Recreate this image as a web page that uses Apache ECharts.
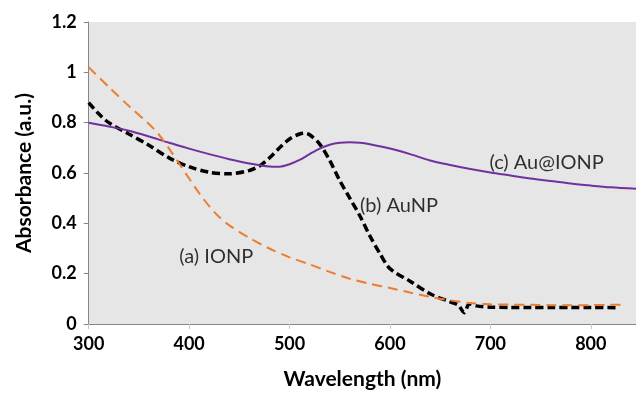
<!DOCTYPE html>
<html>
<head>
<meta charset="utf-8">
<script src="https://cdn.jsdelivr.net/npm/echarts@6/dist/echarts.min.js"></script>
<style>
html,body{margin:0;padding:0;background:#fff;}
#chart{width:636px;height:395px;}
</style>
</head>
<body>
<div id="chart"></div>
<script>
// (a) IONP
var ionpX = [300,320,340,360,370,380,390,400,410,420,430,440,460,480,500,520,540,560,580,600,620,640,660,680,700,720,740,760,780,800,820,830];
var ionpY = [1.02,0.942,0.866,0.795,0.752,0.697,0.638,0.578,0.52,0.468,0.425,0.392,0.342,0.30,0.265,0.237,0.207,0.18,0.16,0.143,0.125,0.108,0.094,0.083,0.078,0.077,0.076,0.075,0.075,0.075,0.076,0.077];
// (b) AuNP
var aunpX = [300,310,320,340,360,380,400,420,440,460,470,480,490,500,510,515,520,530,540,550,560,570,580,590,600,620,640,660,668,674,679,686,700,720,740,760,780,800,825];
var aunpY = [0.88,0.835,0.80,0.755,0.71,0.66,0.625,0.603,0.597,0.61,0.628,0.66,0.70,0.735,0.755,0.758,0.752,0.715,0.65,0.57,0.50,0.43,0.35,0.28,0.22,0.17,0.12,0.088,0.075,0.045,0.08,0.072,0.067,0.066,0.066,0.066,0.066,0.066,0.065];
// (c) Au@IONP
var auionpX = [300,320,340,360,380,400,420,440,460,480,490,500,510,520,530,540,550,560,570,580,600,620,640,660,680,700,720,740,760,780,800,820,845];
var auionpY = [0.80,0.785,0.768,0.745,0.72,0.697,0.675,0.655,0.638,0.626,0.625,0.635,0.652,0.675,0.697,0.712,0.72,0.722,0.72,0.714,0.697,0.675,0.65,0.632,0.616,0.602,0.59,0.578,0.568,0.558,0.55,0.543,0.537];
// annotations (data coordinates)
var noteText = ['(a) IONP','(b) AuNP','(c) Au@IONP'];
var noteX = [427,609,756];
var noteY = [0.27,0.47,0.643];

function pairs(xs, ys){ return xs.map(function(x,i){ return [x, ys[i]]; }); }

var FONT = 'Lato';
var chart = echarts.init(document.getElementById('chart'), null, {renderer:'canvas'});
chart.setOption({
  animation:false,
  backgroundColor:'#ffffff',
  grid:{left:88.7, right:0, top:22, bottom:67, show:true, backgroundColor:'#e6e6e6', borderWidth:0},
  xAxis:{
    type:'value', min:300, max:845, interval:100,
    name:'Wavelength (nm)', nameLocation:'middle', nameGap:45,
    nameTextStyle:{fontFamily:FONT, fontWeight:'bold', fontSize:21, color:'#000'},
    axisLine:{show:true, lineStyle:{color:'#868686', width:1}},
    axisTick:{show:true, length:5, lineStyle:{color:'#c8c8c8', width:1}},
    axisLabel:{fontFamily:FONT, fontWeight:'bold', fontSize:18, color:'#000', margin:11, showMaxLabel:false},
    splitLine:{show:false}
  },
  yAxis:{
    type:'value', min:0, max:1.2, interval:0.2,
    name:'Absorbance (a.u.)', nameLocation:'middle', nameGap:54, nameRotate:90,
    nameTextStyle:{fontFamily:FONT, fontWeight:'bold', fontSize:21, color:'#000'},
    axisLine:{show:true, lineStyle:{color:'#868686', width:1}},
    axisTick:{show:true, length:5, lineStyle:{color:'#868686', width:1}},
    axisLabel:{fontFamily:FONT, fontWeight:'bold', fontSize:18, color:'#000', margin:12},
    splitLine:{show:false}
  },
  series:[
    {type:'line', name:'(b) AuNP', data:pairs(aunpX,aunpY), showSymbol:false, smooth:0.3,
     lineStyle:{color:'#000000', width:3.5, type:[8,4]}},
    {type:'line', name:'(c) Au@IONP', data:pairs(auionpX,auionpY), showSymbol:false, smooth:0.3,
     lineStyle:{color:'#7030a0', width:2}},
    {type:'line', name:'(a) IONP', data:pairs(ionpX,ionpY), showSymbol:false, smooth:0.3,
     lineStyle:{color:'#ed7d31', width:2, type:[10,6]}},
    {type:'scatter', data:noteText.map(function(t,i){ return [noteX[i], noteY[i], t]; }),
     symbolSize:1, itemStyle:{color:'rgba(0,0,0,0)'}, silent:true,
     label:{show:true, position:'inside', formatter:function(p){ return p.value[2]; },
            fontFamily:FONT, fontSize:20, color:'#000'}}
  ]
});
</script>
</body>
</html>
